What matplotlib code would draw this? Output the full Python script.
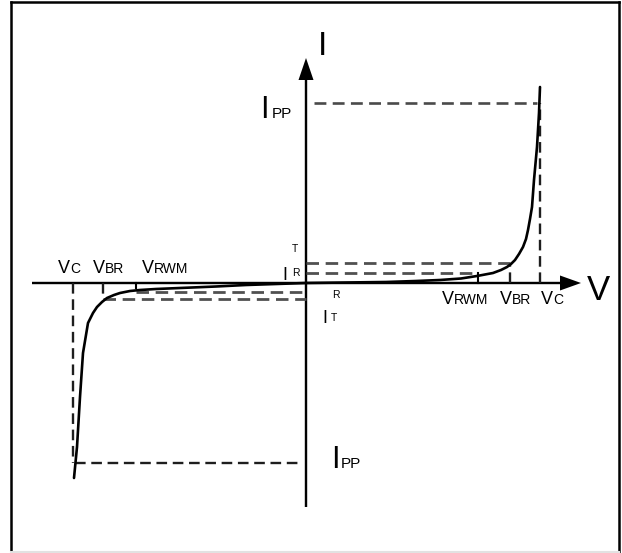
import numpy as np
import matplotlib.pyplot as plt

plt.rcParams["font.family"] = ["Liberation Sans", "DejaVu Sans"]

# schematic units (1 unit ~ 1 px), origin at the axis crossing
VC, VBR, VRWM = 234, 204, 172          # right (forward) side
VC_L, VBR_L, VRWM_L = -233, -203, -170  # left (reverse) side
IPP = 180
IT, IR = 20, 10          # right side currents
IT_L, IR_L = -16, -9     # left side currents

# I-V curve
v_curve = [-232, -229, -226, -223, -218, -213, -209, -204, -199, -192, -186,
           -176, -166, -150, -126, -90, -60, -30, 0,
           40, 80, 110, 134, 155, 171, 187, 195, 201, 205, 209, 213, 217,
           220, 222, 224, 226, 228, 231, 233, 234]
i_curve = [-195, -164, -114, -70, -40, -30, -24, -19, -15, -12, -10,
           -8, -7, -6, -5, -3.5, -2, -1, 0,
           0.5, 1, 2, 3, 4.5, 7, 10, 13, 16, 19, 23, 29, 36,
           44, 53, 64, 76, 103, 136, 170, 196]

fig = plt.figure(figsize=(6.22, 5.53), dpi=100)
ax = fig.add_axes([11/622, 1/553, 608/622, 550/553])
ax.set_xlim(-295, 313)
ax.set_ylim(-269, 281)
ax.set_xticks([])
ax.set_yticks([])
for s in ["left", "top", "right"]:
    ax.spines[s].set_linewidth(1.8)
ax.spines["bottom"].set_color("#e2e2e2")
ax.spines["bottom"].set_linewidth(1.5)

# axes with arrows
ax.arrow(-274, 0, 549, 0, width=2.4, head_width=15, head_length=21,
         length_includes_head=True, fc="k", ec="k", lw=0)
ax.arrow(0, -224, 0, 449, width=2.4, head_width=15, head_length=22,
         length_includes_head=True, fc="k", ec="k", lw=0)

dash = (0, (4.5, 2.4))
dk = dict(color="#1e1e1e", lw=1.7, ls=dash)
gr = dict(color="#505050", lw=2.0, ls=dash)

# right side guides
ax.plot([8, VC - 3], [IPP, IPP], color="#4a4a4a", lw=1.9, ls=dash)
ax.plot([VC, VC], [0, IPP], **dk)
ax.plot([VBR, VBR], [0, IT], **dk)
ax.plot([VRWM, VRWM], [0, IR], color="k", lw=1.5)
ax.plot([0, VBR], [IT, IT], **gr)
ax.plot([0, VRWM], [IR, IR], **gr)

# left side guides
ax.plot([VC_L + 2, -6], [-IPP, -IPP], **dk)
ax.plot([VC_L, VC_L], [0, -IPP], **dk)
ax.plot([VBR_L, VBR_L], [0, IT_L], **dk)
ax.plot([VRWM_L, VRWM_L], [0, -5], color="k", lw=1.5)
ax.plot([VBR_L, 0], [IT_L, IT_L], **gr)
ax.plot([VRWM_L, 0], [IR_L, IR_L], **gr)

ax.plot(v_curve, i_curve, color="k", lw=1.9, solid_capstyle="round")

def label(x, y, big, small, s1, s2, gap):
    ax.text(x, y, big, fontsize=s1, ha="left", va="baseline")
    ax.text(x + gap, y, small, fontsize=s2, ha="left", va="baseline")

# voltage labels
label(VC_L - 15, 10, "V", "C", 13, 10, 12)
label(VBR_L - 10, 10, "V", "BR", 13, 10, 12)
label(VRWM_L + 6, 10, "V", "RWM", 13, 10, 12)
label(VRWM - 36, -21, "V", "RWM", 13, 10, 12)
label(VBR - 10, -21, "V", "BR", 13, 10, 12)
label(VC + 1, -21, "V", "C", 13, 10, 12)

# current labels
label(-46, IPP - 15, "I", "PP", 22, 11, 12)
label(25, -IPP - 5, "I", "PP", 22, 11, 10)

ax.text(12, 228, "I", fontsize=24, ha="left", va="baseline")
ax.text(281, -17, "V", fontsize=25, ha="left", va="baseline")

# scattered I_T / I_R marks
ax.text(-11, 34, "T", fontsize=7.5, ha="center", va="center")
ax.text(-21, 3, "I", fontsize=13, ha="center", va="baseline")
ax.text(-10, 10, "R", fontsize=7.5, ha="center", va="center")
ax.text(30, -12, "R", fontsize=7.5, ha="center", va="center")
ax.text(19, -40, "I", fontsize=13, ha="center", va="baseline")
ax.text(28, -35, "T", fontsize=7.5, ha="center", va="center")

fig.savefig("out.png", dpi=100)
